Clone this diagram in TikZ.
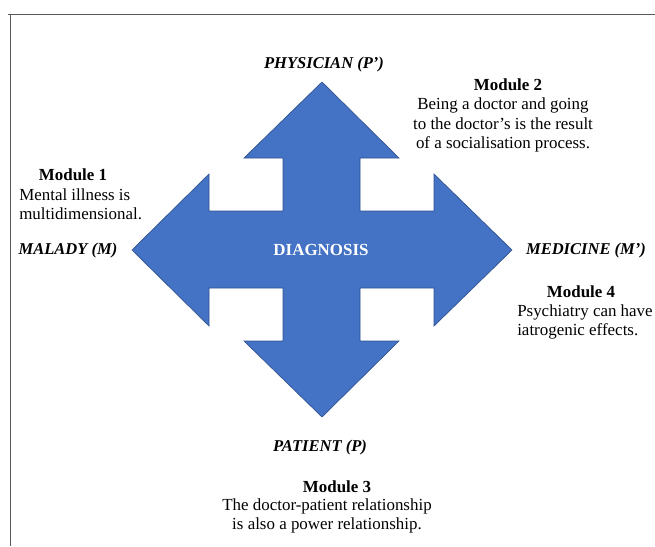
\documentclass[tikz,border=0pt]{standalone}
\usepackage{fontspec}
\setmainfont{Liberation Serif}
\definecolor{arrowblue}{HTML}{4472C4}
\definecolor{arrowedge}{HTML}{2F528F}
\definecolor{frame}{HTML}{595959}
\begin{document}
\begin{tikzpicture}[x=0.75pt,y=-0.75pt,
  every node/.style={font=\fontsize{12.7}{14.6}\selectfont,inner sep=0pt},
  pole/.style={font=\fontsize{12.4}{14.6}\selectfont\bfseries\itshape},
  modhead/.style={font=\fontsize{12.7}{14.6}\selectfont\bfseries},
  modtext/.style={align=center}]
\useasboundingbox (0,0) rectangle (655,546);

% page frame
\draw[frame,line width=0.75pt] (8,14) -- (655,14);
\draw[frame,line width=0.75pt] (10,14) -- (10,546);

% four-way arrow
\filldraw[fill=arrowblue,draw=arrowedge,line width=0.5pt]
  (322,82) -- (399,158) -- (360,158) -- (360,211)
  -- (434,211) -- (434,174) -- (512,250) -- (434,326) -- (434,288)
  -- (360,288) -- (360,341) -- (399,341) -- (322,417) -- (244,341)
  -- (283,341) -- (283,288) -- (209,288) -- (209,326) -- (132,250)
  -- (209,174) -- (209,211) -- (283,211) -- (283,158) -- (244,158) -- cycle;

\node[font=\fontsize{12.7}{14.6}\selectfont\bfseries,text=white] (diag) at (321,250) {DIAGNOSIS};

% the four poles
\node[pole] (physician) at (324,65) {PHYSICIAN (P’)};
\node[pole] (malady) at (68,251) {MALADY (M)};
\node[pole] (medicine) at (586,251) {MEDICINE (M’)};
\node[pole] (patient) at (320,448) {PATIENT (P)};

% modules
\node[modhead] (mod1) at (73,175) {Module 1};
\node[anchor=west,align=left] (mod1txt) at (19,204)
  {Mental illness is\\multidimensional.};

\node[modhead] (mod2) at (508,85) {Module 2};
\node[modtext] (mod2txt) at (503,125)
  {Being a doctor and going\\to the doctor’s is the result\\of a socialisation process.};

\node[modhead] (mod3) at (337,487) {Module 3};
\node[modtext] (mod3txt) at (327,516)
  {The doctor-patient relationship\\is also a power relationship.};

\node[modhead] (mod4) at (581,292) {Module 4};
\node[anchor=west,align=left] (mod4txt) at (517,322)
  {Psychiatry can have\\iatrogenic effects.};
\end{tikzpicture}
\end{document}
